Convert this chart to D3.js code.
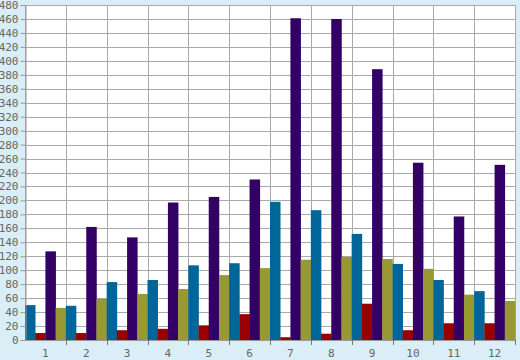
<!DOCTYPE html>
<html><head><meta charset="utf-8">
<script src="https://cdn.jsdelivr.net/npm/d3@7"></script>
<style>html,body{margin:0;padding:0;background:#d9eef6;}svg{display:block;}</style>
</head><body>
<svg id="c" width="520" height="360"></svg>
<script>
const categories = ["1","2","3","4","5","6","7","8","9","10","11","12"];
const seriesNames = ["blue","red","purple","olive"];
const blueValues   = [50, 49, 83, 86, 107, 110, 198, 186, 152, 109, 86, 70];
const redValues    = [10, 10, 14, 16, 21, 37, 4, 9, 52, 14, 24, 24];
const purpleValues = [127, 162, 147, 197, 205, 230, 461, 460, 388, 254, 177, 251];
const oliveValues  = [46, 59, 66, 73, 93, 103, 115, 119, 116, 102, 65, 56];
const yTicks = d3.range(0, 481, 20);
const colors = {blue:"#006699", red:"#990000", purple:"#330066", olive:"#999933"};
const seriesValues = {blue:blueValues, red:redValues, purple:purpleValues, olive:oliveValues};

const svg = d3.select("#c");
const L = 25, R = 515, T = 5, B = 340;
const x = d3.scaleBand().domain(categories).range([L, R]).padding(0);
const xs = d3.scaleBand().domain(seriesNames).range([0, x.bandwidth()]).padding(0);
const y = d3.scaleLinear().domain([0, 480]).range([B, T]);

svg.append("rect").attr("x", L).attr("y", T).attr("width", R - L).attr("height", B - T).attr("fill", "#fff");

// horizontal grid
svg.append("g").selectAll("line").data(yTicks).join("line")
  .attr("x1", L).attr("x2", R)
  .attr("y1", d => Math.round(y(d)) + 0.5).attr("y2", d => Math.round(y(d)) + 0.5)
  .attr("stroke", "#aaaaaa").attr("stroke-width", 1);
// vertical grid
const bounds = categories.map(c => x(c)).concat([R]);
svg.append("g").selectAll("line").data(bounds).join("line")
  .attr("x1", d => Math.round(d) + 0.5).attr("x2", d => Math.round(d) + 0.5)
  .attr("y1", T).attr("y2", B)
  .attr("stroke", "#aaaaaa").attr("stroke-width", 1);

// bars
const g = svg.append("g").selectAll("g").data(categories).join("g")
  .attr("transform", d => `translate(${x(d)},0)`);
g.selectAll("rect").data((c, i) => seriesNames.map(s => ({s, v: seriesValues[s][i]}))).join("rect")
  .attr("x", d => xs(d.s)).attr("width", xs.bandwidth() + 0.3)
  .attr("y", d => y(d.v)).attr("height", d => y(0) - y(d.v))
  .attr("fill", d => colors[d.s]);

// y axis
const ya = d3.axisLeft(y).tickValues(yTicks).tickSize(5).tickPadding(2);
const yg = svg.append("g").attr("transform", `translate(${L + 0.5},0)`).call(ya);
yg.select(".domain").attr("stroke", "#999");
yg.selectAll(".tick line").attr("stroke", "#999");
yg.selectAll("text").attr("fill", "#666").style("font-family", "DejaVu Sans Mono").style("font-size", "11px");

// x axis
const xa = svg.append("g");
xa.append("line").attr("x1", L).attr("x2", R).attr("y1", B + 0.5).attr("y2", B + 0.5).attr("stroke", "#999");
xa.selectAll("line.t").data(bounds.slice(1)).join("line").attr("class", "t")
  .attr("x1", d => Math.round(d) + 0.5).attr("x2", d => Math.round(d) + 0.5)
  .attr("y1", B).attr("y2", B + 5).attr("stroke", "#777");
xa.selectAll("text").data(categories).join("text")
  .attr("x", d => x(d) + x.bandwidth() / 2).attr("y", 357)
  .attr("text-anchor", "middle").attr("fill", "#666")
  .style("font-family", "DejaVu Sans Mono").style("font-size", "11px")
  .text(d => d);
</script>
</body></html>
